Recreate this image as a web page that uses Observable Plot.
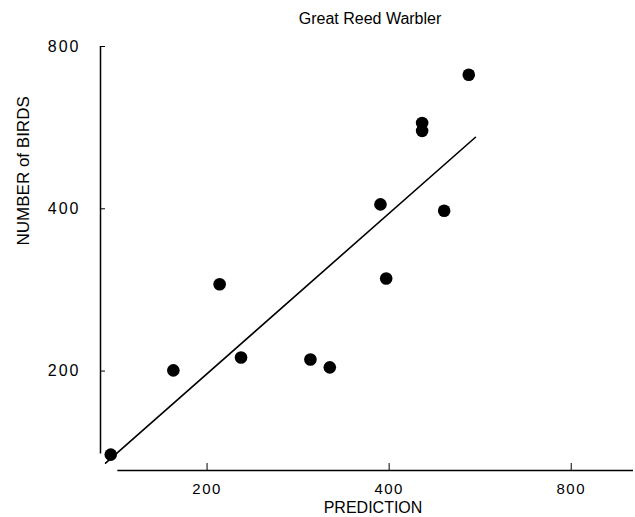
<!DOCTYPE html>
<html>
<head>
<meta charset="utf-8">
<script src="https://cdn.jsdelivr.net/npm/d3@7"></script>
<script src="https://cdn.jsdelivr.net/npm/@observablehq/plot@0.6"></script>
<style>
  html, body { margin: 0; padding: 0; background: #fff; }
  svg { font-family: "Liberation Sans", Arial, Helvetica, sans-serif; }
  g[aria-label="y-axis tick label"] text { letter-spacing: 2px; }
  g[aria-label="x-axis tick label"] text { letter-spacing: 1.5px; }
</style>
</head>
<body>
<div id="chart"></div>
<script>
// Observed data (prediction vs number of birds)
const prediction = [138.6, 175.9, 209.8, 227.6, 296.4, 319.1, 387.0, 395.5, 453.5, 453.5, 493.2, 541.6];
const birds      = [140.0, 200.6, 289.8, 212.0, 210.2, 203.2, 407.6, 297.0, 577.0, 558.0, 396.6, 709.0];

// Fitted regression line endpoints
const fitX = [135.9, 555.6];
const fitY = [135.0, 543.0];

// Tick labels
const xTicks = [200, 400, 800];
const yTicks = [200, 400, 800];

// Scale domains and axis extents
const xDomain = [133.3, 1014];
const yDomain = [130.8, 800];
const xAxisStart = 142.4;
const yAxisStart = 140.4;

const points = prediction.map((p, i) => ({prediction: p, birds: birds[i]}));
const fit = fitX.map((x, i) => ({x, y: fitY[i]}));

const chart = Plot.plot({
  width: 635,
  height: 517,
  marginLeft: 100,
  marginRight: 2,
  marginTop: 46,
  marginBottom: 47,
  style: {fontSize: "14px", color: "#000", background: "#fff"},
  x: {type: "log", base: 2, domain: xDomain},
  y: {type: "log", base: 2, domain: yDomain},
  marks: [
    Plot.ruleX([xDomain[0]], {y1: yAxisStart, y2: yDomain[1], stroke: "#000", strokeWidth: 1.5}),
    Plot.ruleY([yDomain[0]], {x1: xAxisStart, x2: xDomain[1], stroke: "#000", strokeWidth: 1.5}),
    Plot.axisY({ticks: yTicks, tickSize: -5, tickPadding: 25, tickFormat: d => String(d), fontSize: 16, label: null}),
    Plot.axisX({ticks: xTicks, tickSize: -7, tickPadding: 20, tickFormat: d => String(d), fontSize: 15, label: null}),
    Plot.line(fit, {x: "x", y: "y", stroke: "#000", strokeWidth: 1.6}),
    Plot.dot(points, {x: "prediction", y: "birds", r: 6.3, fill: "#000", stroke: "none"}),
    Plot.text(["Great Reed Warbler"], {frameAnchor: "top", dx: 3, dy: -28, fontSize: 16, lineAnchor: "middle", fill: "#000"}),
    Plot.text(["PREDICTION"], {frameAnchor: "bottom", dx: 6, dy: 37, fontSize: 16, lineAnchor: "middle", fill: "#000"}),
    Plot.text(["NUMBER of BIRDS"], {frameAnchor: "left", dx: -77, dy: -13, rotate: -90, fontSize: 17, lineAnchor: "middle", fill: "#000"})
  ]
});
document.getElementById("chart").appendChild(chart);
</script>
</body>
</html>
